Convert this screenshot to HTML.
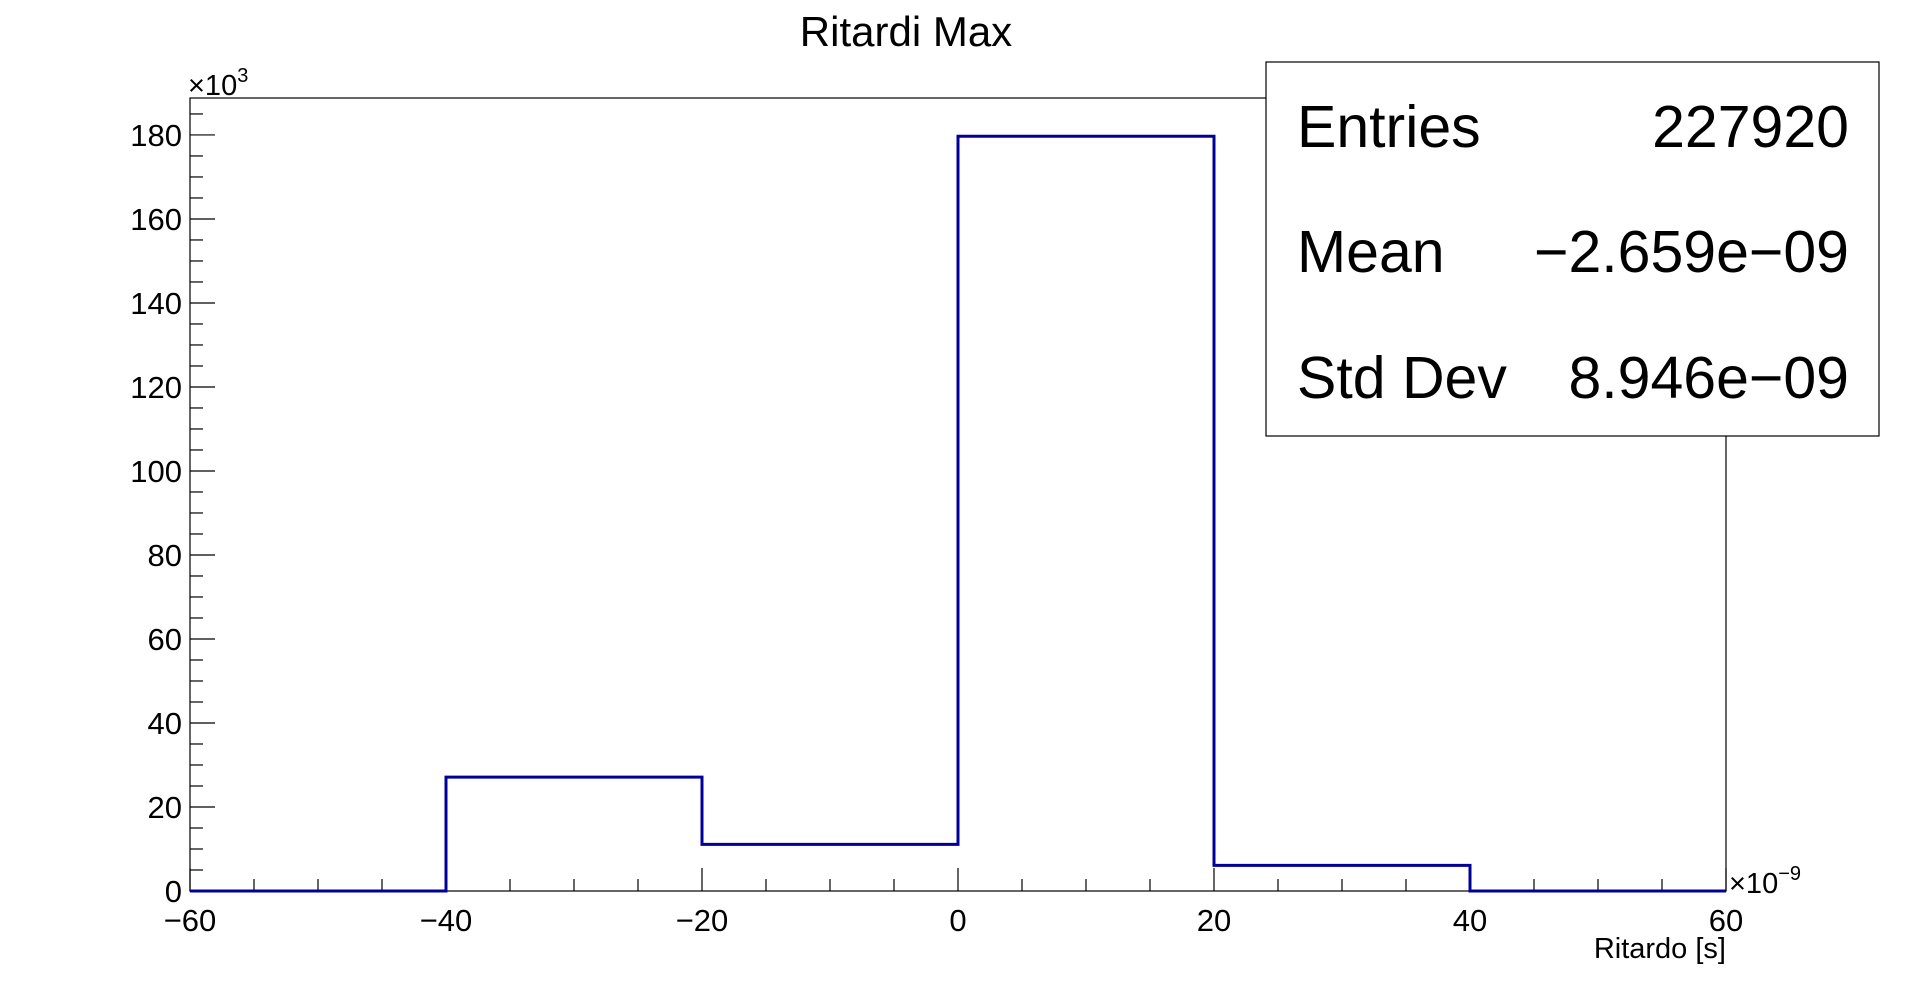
<!DOCTYPE html>
<html><head><meta charset="utf-8"><style>
html,body{margin:0;padding:0;background:#fff;}
svg{display:block;font-family:"Liberation Sans",sans-serif;}
</style></head><body>
<svg id="c" width="1918" height="991">
<text x="906" y="46" font-size="42" text-anchor="middle">Ritardi Max</text>
<rect x="190" y="98" width="1536" height="793" fill="none" stroke="#000" stroke-width="1.2"/>
<g id="ax"></g>
<path id="hist" fill="none" stroke="#000099" stroke-width="3"/>
<text x="188" y="95" font-size="29">×10<tspan dy="-13" font-size="20">3</tspan></text>
<text x="1729" y="893" font-size="29">×10<tspan dy="-13" font-size="20">−9</tspan></text>
<text x="1726" y="958" font-size="29" text-anchor="end">Ritardo [s]</text>
<g>
<rect x="1266" y="62" width="613" height="374" fill="#fff" stroke="#000" stroke-width="1.2"/>
<text x="1297" y="147" font-size="59">Entries</text><text x="1849" y="147" font-size="59" text-anchor="end">227920</text>
<text x="1297" y="272" font-size="59">Mean</text><text x="1849" y="272" font-size="59" text-anchor="end">−2.659e−09</text>
<text x="1297" y="398" font-size="59">Std Dev</text><text x="1849" y="398" font-size="59" text-anchor="end">8.946e−09</text>
</g>
</svg>
<script>
const binEdges=[-60,-40,-20,0,20,40,60];
const binCounts=[0,27.1,11.1,179.7,6.1,0];
const xTicks=[-60,-40,-20,0,20,40,60];
const yTicks=[0,20,40,60,80,100,120,140,160,180];
const X0=190,X1=1726,Y0=891,Y1=98,XMIN=-60,XMAX=60,YMAX=188.8;
const sx=v=>X0+(v-XMIN)/(XMAX-XMIN)*(X1-X0);
const sy=v=>Y0-v/YMAX*(Y0-Y1);
const ns="http://www.w3.org/2000/svg";
const ax=document.getElementById('ax');
function ln(x1,y1,x2,y2,name){const l=document.createElementNS(ns,'line');l.setAttribute('x1',x1);l.setAttribute('y1',y1);l.setAttribute('x2',x2);l.setAttribute('y2',y2);l.setAttribute('stroke','#000');l.setAttribute('stroke-width','1.2');


ax.appendChild(l);}
function tx(x,y,s,anchor,name){const t=document.createElementNS(ns,'text');t.setAttribute('x',x);t.setAttribute('y',y);t.setAttribute('font-size','31');t.setAttribute('text-anchor',anchor);t.textContent=s;


ax.appendChild(t);}
for(let v=XMIN;v<=XMAX;v+=5){const major=v%20===0;ln(sx(v),Y0,sx(v),Y0-(major?23:12),major?'x-major-tick':'x-minor-tick');}
xTicks.forEach(v=>tx(sx(v),Y0+40,String(v).replace('-','−'),'middle','x-tick-label'));
for(let v=0;v<=YMAX;v+=5){const major=v%20===0;ln(X0,sy(v),X0+(major?25:13),sy(v),major?'y-major-tick':'y-minor-tick');}
yTicks.forEach(v=>tx(X0-8,sy(v)+11,String(v),'end','y-tick-label'));
let d='M'+sx(binEdges[0])+','+sy(0);
binCounts.forEach((c,i)=>{d+=' L'+sx(binEdges[i])+','+sy(c)+' L'+sx(binEdges[i+1])+','+sy(c);});
d+=' L'+sx(binEdges[binEdges.length-1])+','+sy(0);
document.getElementById('hist').setAttribute('d',d);
</script>
</body></html>
